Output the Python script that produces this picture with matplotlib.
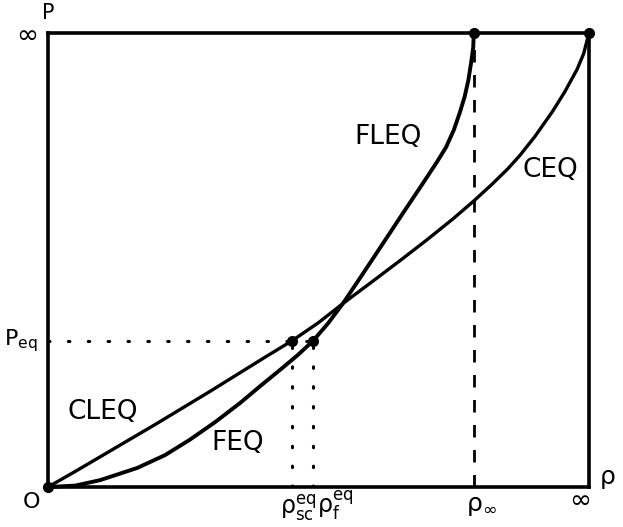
import matplotlib.pyplot as plt

plt.rcParams['font.family'] = ['DejaVu Sans']
plt.rcParams['mathtext.fontset'] = 'dejavusans'
plt.rcParams['mathtext.default'] = 'regular'

# curves (rho, P), both scaled to [0, 1] with 1 = infinity
ceq_rho = [0.0, 0.05, 0.10, 0.15, 0.20, 0.25, 0.30, 0.35, 0.40, 0.451, 0.50, 0.545,
           0.60, 0.65, 0.70, 0.75, 0.787, 0.82, 0.85, 0.872, 0.90, 0.933, 0.955,
           0.978, 0.99, 1.0]
ceq_p = [0.0, 0.034, 0.069, 0.104, 0.139, 0.175, 0.211, 0.248, 0.285, 0.322, 0.362, 0.404,
         0.453, 0.498, 0.544, 0.592, 0.630, 0.666, 0.701, 0.730, 0.772, 0.828, 0.870,
         0.920, 0.954, 1.0]

feq_rho = [0.0, 0.050, 0.096, 0.165, 0.216, 0.262, 0.309, 0.355, 0.392, 0.429, 0.462,
           0.490, 0.518, 0.545, 0.571, 0.595, 0.625, 0.656, 0.688, 0.719, 0.736, 0.750,
           0.761, 0.770, 0.777, 0.782, 0.786, 0.787]
feq_p = [0.0, 0.003, 0.015, 0.042, 0.070, 0.104, 0.143, 0.185, 0.222, 0.258, 0.291,
         0.322, 0.361, 0.404, 0.450, 0.493, 0.547, 0.603, 0.660, 0.716, 0.749, 0.786,
         0.824, 0.859, 0.896, 0.934, 0.968, 1.0]

p_eq = 0.322
rho_sc_eq = 0.451
rho_f_eq = 0.490
rho_inf = 0.787

fig = plt.figure(figsize=(6.23, 5.27), dpi=100)
ax = fig.add_axes([48 / 623, 1 - 487 / 527, 541 / 623, 454 / 527])
ax.set_xlim(0, 1)
ax.set_ylim(0, 1)
ax.set_xticks([])
ax.set_yticks([])
for s in ax.spines.values():
  s.set_linewidth(2.6)

ax.plot(ceq_rho, ceq_p, color='black', lw=2.4, solid_joinstyle='round',
        solid_capstyle='round', clip_on=False)
ax.plot(feq_rho, feq_p, color='black', lw=2.8, solid_joinstyle='round',
        solid_capstyle='round', clip_on=False)

# dashed asymptote and dotted guides
ax.plot([rho_inf, rho_inf], [0, 1], color='black', lw=2, ls=(0, (4.5, 4.5)))
dots = dict(color='black', lw=2.2, ls=(0, (0.5, 6)), dash_capstyle='round')
ax.plot([0, rho_f_eq], [p_eq, p_eq], **dots)
ax.plot([rho_sc_eq, rho_sc_eq], [0, p_eq], **dots)
ax.plot([rho_f_eq, rho_f_eq], [0, p_eq], **dots)

# marked points
ax.plot([0, rho_inf, 1, rho_sc_eq, rho_f_eq], [0, 1, 1, p_eq, p_eq], 'o',
        color='black', ms=7, clip_on=False)

# curve labels
lab = dict(fontsize=19, ha='center', va='center')
ax.text(0.102, 0.165, 'CLEQ', **lab)
ax.text(0.351, 0.097, 'FEQ', **lab)
ax.text(0.628, 0.771, 'FLEQ', **lab)
ax.text(0.928, 0.698, 'CEQ', **lab)

# axis labels
ax.text(0.0, 1.045, 'P', fontsize=15, ha='center', va='center', clip_on=False)
ax.text(-0.039, 0.996, r'$\infty$', fontsize=19, ha='center', va='center', clip_on=False)
ax.text(-0.050, p_eq, r'$P_{eq}$', fontsize=16, ha='center', va='center', clip_on=False)
ax.text(-0.030, -0.033, 'O', fontsize=16, ha='center', va='center', clip_on=False)
ax.text(rho_f_eq + 0.006, -0.045, r'$\rho_{sc}^{eq}$', fontsize=17, ha='right', va='center', clip_on=False)
ax.text(rho_f_eq + 0.008, -0.040, r'$\rho_{f}^{eq}$', fontsize=17, ha='left', va='center', clip_on=False)
ax.text(rho_inf + 0.015, -0.042, r'$\rho_{\infty}$', fontsize=18, ha='center', va='center', clip_on=False)
ax.text(0.983, -0.029, r'$\infty$', fontsize=19, ha='center', va='center', clip_on=False)
ax.text(1.033, 0.018, r'$\rho$', fontsize=18, ha='center', va='center', clip_on=False)

plt.savefig('out.png', dpi=100)
